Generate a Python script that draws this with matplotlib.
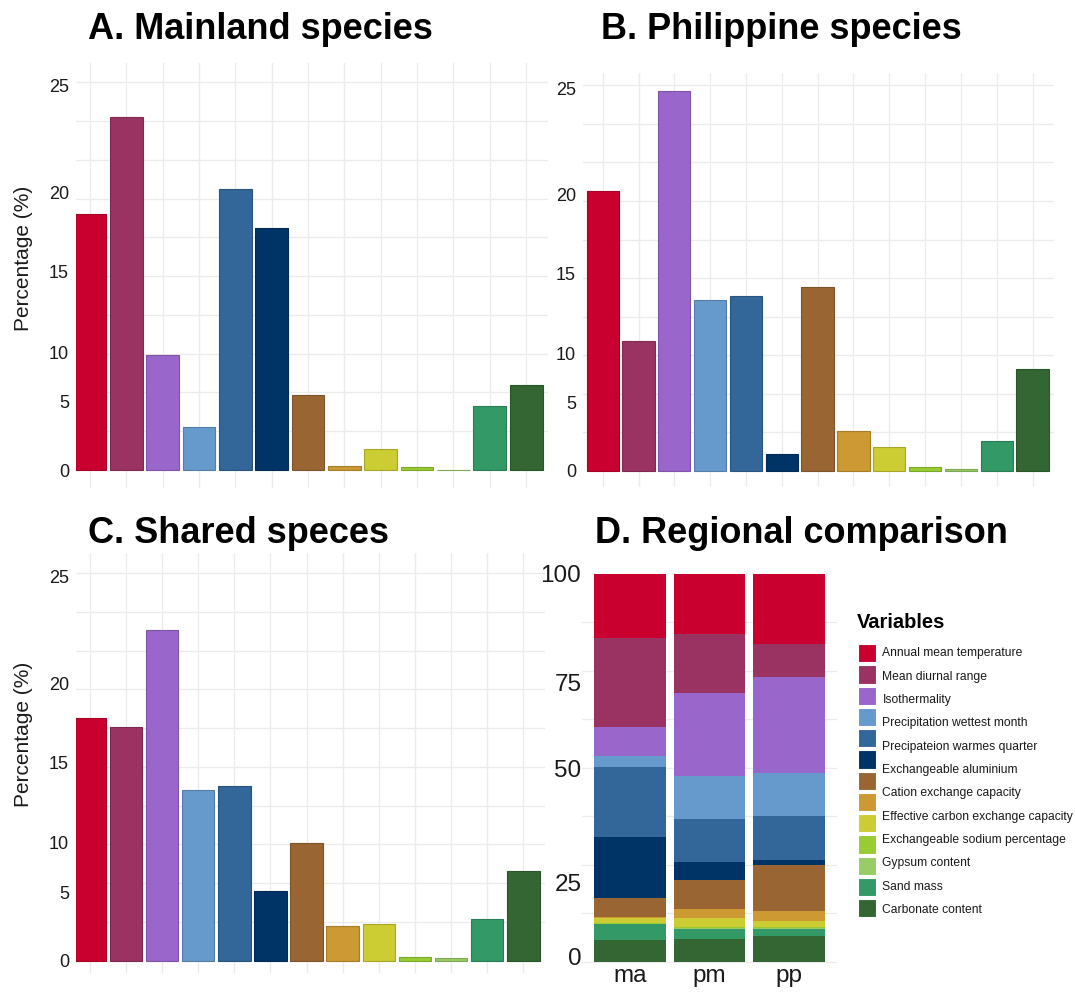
import matplotlib.pyplot as plt
import numpy as np
from matplotlib.colors import to_rgb
from matplotlib.patches import Rectangle

plt.rcParams['font.family'] = ['Liberation Sans', 'DejaVu Sans']

# one colour per environmental variable (13 bars per panel)
colors = ['#C9002F', '#9A3262', '#9966CC', '#6699CC', '#336699', '#003366',
          '#996633', '#CC9933', '#CCCC33', '#99CC33', '#99CC66', '#339966',
          '#336633']

legend_labels = ['Annual mean temperature', 'Mean diurnal range', 'Isothermality',
                 'Precipitation wettest month', 'Precipateion warmes quarter',
                 'Exchangeable aluminium', 'Cation exchange capacity',
                 'Effective carbon exchange capacity', 'Exchangeable sodium percentage',
                 'Gypsum content', 'Sand mass', 'Carbonate content']

# percentage contribution of each variable
mainland = [16.5, 22.75, 7.44, 2.80, 18.1, 15.6, 4.86, 0.26, 1.38, 0.17, 0.0, 4.15, 5.48]
philippine = [18.15, 8.45, 24.63, 11.05, 11.31, 1.09, 11.92, 2.60, 1.52, 0.26, 0.09, 1.93, 6.59]
shared = [15.64, 15.10, 21.34, 11.01, 11.29, 4.52, 7.57, 2.24, 2.37, 0.26, 0.15, 2.69, 5.81]

groups = ['ma', 'pm', 'pp']

y_tick_text = ['0', '5', '10', '15', '20', '25']
y_tick_pos = [0, 4.4, 7.6, 12.8, 17.9, 24.8]
stack_tick_text = ['0', '25', '50', '75', '100']
stack_tick_pos = [1.3, 20.4, 49.7, 72.0, 100]

GRID = '#EBEBEB'
W, H = 1075, 992


def darker(c, f=0.82):
    return tuple(v * f for v in to_rgb(c))


def px_axes(fig, x0, y0, x1, y1):
    return fig.add_axes([x0 / W, 1 - y1 / H, (x1 - x0) / W, (y1 - y0) / H])


def style(ax):
    for s in ax.spines.values():
        s.set_visible(False)
    ax.set_axisbelow(True)
    ax.grid(which='minor', color=GRID, lw=1)
    ax.tick_params(which='both', length=0)


def bar_panel(ax, values, xlo):
    x = np.arange(1, len(values) + 1)
    ax.bar(x, values, width=0.9, color=colors,
           edgecolor=[darker(c) for c in colors], linewidth=0.8)
    style(ax)
    ax.set_xticks(x, minor=True)
    ax.set_yticks(np.arange(0, 25.1, 2.5), minor=True)
    ax.set_xticks([])
    ax.set_yticks(y_tick_pos, y_tick_text)
    ax.tick_params(axis='y', labelsize=13, pad=5, colors='#1a1a1a')
    ax.set_xlim(xlo, 13.6)


fig = plt.figure(figsize=(W / 100, H / 100), dpi=100)

axA = px_axes(fig, 76, 63, 548, 488)
bar_panel(axA, mainland, 0.62)
axA.set_ylim(-1.16, 26.25)

axB = px_axes(fig, 583, 73, 1054, 487)
bar_panel(axB, philippine, 0.45)
axB.set_ylim(-1.05, 25.8)

axC = px_axes(fig, 76, 553, 545, 973)
bar_panel(axC, shared, 0.62)
axC.set_ylim(-0.8, 26.3)

# stacked regional comparison, red on top
axD = px_axes(fig, 582, 557, 837, 965)
regions = [mainland, shared, philippine]
xd = np.arange(1, 4)
totals = np.array([sum(r) for r in regions])
bottom = np.zeros(3)
for i in range(len(colors) - 1, -1, -1):
    h = np.array([r[i] for r in regions]) / totals * 100
    axD.bar(xd, h, bottom=bottom, width=0.9, color=colors[i], linewidth=0)
    bottom += h
style(axD)
axD.set_xticks(xd, minor=True)
axD.set_yticks(np.arange(0, 100.1, 12.5), minor=True)
axD.set_xticks(xd, groups)
axD.set_yticks(stack_tick_pos, stack_tick_text)
axD.tick_params(axis='y', labelsize=17.5, pad=0.5, colors='#1a1a1a')
axD.tick_params(axis='x', labelsize=17.5, pad=0, colors='#1a1a1a')
axD.set_xlim(0.4, 3.6)
axD.set_ylim(-0.85, 104.3)

# panel titles
for txt, x, y in [('A. Mainland species', 88, 39), ('B. Philippine species', 601, 39),
                  ('C. Shared speces', 88, 543), ('D. Regional comparison', 595, 543)]:
    fig.text(x / W, 1 - y / H, txt, fontsize=26, fontweight='bold', va='baseline')

for y in (258, 734):
    fig.text(24 / W, 1 - y / H, 'Percentage (%)', rotation=90, fontsize=15,
             ha='center', va='center', color='#1a1a1a')

# legend drawn in pixel space
leg = fig.add_axes([0, 0, 1, 1], facecolor='none')
leg.set_xlim(0, W)
leg.set_ylim(H, 0)
leg.axis('off')
leg.text(857, 622, 'Variables', fontsize=14.5, fontweight='bold', va='center')
sw_y = np.linspace(653.3, 908.3, len(colors))
for c, y in zip(colors, sw_y):
    leg.add_patch(Rectangle((857.5, y - 9.2), 18.5, 18.4, facecolor=c,
                            edgecolor='white', lw=0.8))
lab_y = np.linspace(653.3, 910, len(legend_labels))
for t, y in zip(legend_labels, lab_y):
    leg.text(882.5, y, t, fontsize=8.7, va='center', color='#1a1a1a')

fig.savefig('out.png', dpi=100)
